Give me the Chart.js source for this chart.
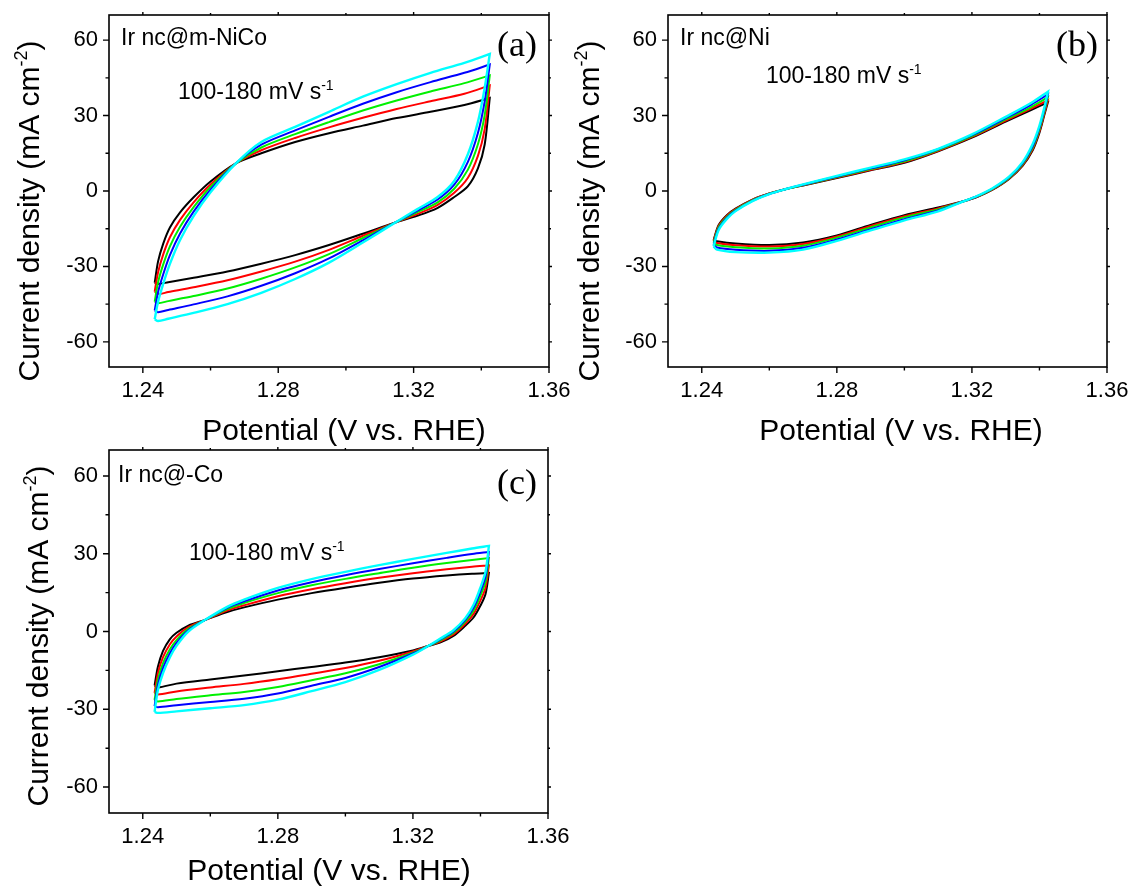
<!DOCTYPE html>
<html>
<head>
<meta charset="utf-8">
<title>CV at different scan rates</title>
<script src="https://cdn.jsdelivr.net/npm/chart.js@4.4.1/dist/chart.umd.min.js"></script>
<style>
  html, body { margin: 0; padding: 0; background: #fff; }
  #wrap { position: relative; width: 1134px; height: 889px; overflow: hidden; }
  #wrap canvas { position: absolute; left: 0; top: 0; }
</style>
</head>
<body>
<div id="wrap">
  <canvas id="cvNiCo" width="1134" height="889"></canvas>
  <canvas id="cvNi" width="1134" height="889"></canvas>
  <canvas id="cvCo" width="1134" height="889"></canvas>
</div>
<script>
// scan rates (mV/s) and their trace colours
const scanRates = [100, 120, 140, 160, 180];
const rateColors = ['#000000', '#ff0000', '#00f000', '#0000ff', '#00ffff'];

// axis ticks, empty label = minor tick
const potTicks = [1.24, 1.26, 1.28, 1.30, 1.32, 1.34, 1.36];
const potLabels = ['1.24', '', '1.28', '', '1.32', '', '1.36'];
const curTicks = [-60, -45, -30, -15, 0, 15, 30, 45, 60];
const curLabels = ['-60', '', '-30', '', '0', '', '30', '', '60'];

// (a) Ir nc@m-NiCo : anodic sweep then cathodic sweep, V vs RHE / mA cm-2
const nicoFwdE = [1.2435, 1.2445, 1.246, 1.248, 1.251, 1.255, 1.26, 1.2675, 1.275, 1.285, 1.295, 1.305, 1.315, 1.325, 1.335, 1.3425];
const nicoFwd100 = [-36.5, -28, -21, -14.5, -8.5, -2.5, 3.8, 11, 15, 19.5, 23, 26, 29, 31.5, 34.2, 37];
const nicoFwd120 = [-40, -32.3, -25.3, -18.4, -11.5, -4.5, 2.6, 11, 16.2, 21.1, 25.3, 29.1, 32.6, 35.7, 38.7, 42];
const nicoFwd140 = [-44, -36.3, -29.3, -22, -14.2, -6.4, 1.6, 11, 17.3, 22.6, 27.4, 32, 36, 39.6, 42.9, 46];
const nicoFwd160 = [-47.5, -40.2, -33.2, -25.5, -16.9, -8.2, 0.5, 11, 18.4, 24.1, 29.5, 34.7, 39.3, 43.3, 47, 50.3];
const nicoFwd180 = [-51, -44, -37, -29, -19.5, -10, -0.5, 11, 19.5, 25.5, 31.5, 37.5, 42.5, 47, 51, 54.5];
const nicoRevE = [1.3425, 1.341, 1.339, 1.336, 1.332, 1.327, 1.321, 1.3145, 1.305, 1.295, 1.285, 1.275, 1.265, 1.255, 1.2475, 1.2445];
const nicoRev100 = [37, 18.5, 9, 1.8, -2.4, -6.8, -9.9, -12.6, -17, -21.5, -25.5, -28.9, -32, -34.5, -36.3, -37];
const nicoRev120 = [42, 24.6, 14, 5.2, -0.7, -5.6, -9.2, -12.6, -17.8, -23.4, -28.1, -32, -35.5, -38.3, -40.2, -41];
const nicoRev140 = [46, 30.2, 18.6, 8.4, 0.9, -4.6, -8.5, -12.6, -18.7, -25.1, -30.4, -34.9, -38.8, -41.8, -43.8, -44.6];
const nicoRev160 = [50.3, 35.6, 23.1, 11.5, 2.5, -3.5, -7.9, -12.6, -19.6, -26.8, -32.7, -37.7, -41.9, -45.1, -47.3, -48.2];
const nicoRev180 = [54.5, 41, 27.5, 14.5, 4, -2.5, -7.3, -12.6, -20.5, -28.5, -35, -40.5, -45, -48.5, -50.8, -51.7];

// (b) Ir nc@Ni
const niFwdE = [1.2435, 1.245, 1.2475, 1.25, 1.255, 1.26, 1.265, 1.27, 1.28, 1.29, 1.30, 1.31, 1.32, 1.33, 1.3375, 1.3425];
const niFwd100 = [-19.5, -13.5, -9.5, -7, -3.4, -1, 0.8, 2.2, 5.2, 8.2, 11.2, 15.8, 21.2, 27.6, 32.2, 35.3];
const niFwd120 = [-20, -13.9, -9.8, -7.2, -3.5, -1, 0.8, 2.3, 5.4, 8.4, 11.5, 16, 21.5, 28, 32.8, 36.1];
const niFwd140 = [-20.6, -14.4, -10.2, -7.5, -3.7, -1.1, 0.8, 2.4, 5.6, 8.7, 11.8, 16.3, 21.8, 28.5, 33.4, 37.3];
const niFwd160 = [-21.4, -15, -10.6, -7.8, -3.9, -1.2, 0.8, 2.5, 5.8, 9, 12.2, 16.6, 22.2, 29, 34.3, 38.4];
const niFwd180 = [-22, -15.5, -11, -8, -4, -1.2, 0.8, 2.6, 6, 9.3, 12.6, 16.8, 22.5, 29.5, 35, 39.5];
const niRevE = [1.3425, 1.3415, 1.34, 1.338, 1.335, 1.331, 1.326, 1.3215, 1.3175, 1.31, 1.30, 1.29, 1.28, 1.27, 1.26, 1.25, 1.2445];
const niRev100 = [35.3, 30.5, 23.2, 16.2, 10, 4.8, 0.4, -2.4, -4.1, -6.6, -9.6, -13.5, -17.7, -20.5, -21.5, -20.9, -20];
const niRev120 = [36.1, 31.1, 23.8, 16.7, 10.3, 5, 0.5, -2.3, -4.1, -6.9, -10, -13.9, -18.1, -21.1, -22.1, -21.6, -20.7];
const niRev140 = [37.3, 31.9, 24.5, 17.3, 10.7, 5.2, 0.7, -2.2, -4.1, -7.3, -10.5, -14.5, -18.6, -21.8, -22.9, -22.4, -21.5];
const niRev160 = [38.4, 32.7, 25.3, 17.9, 11.1, 5.5, 0.9, -2.1, -4.1, -7.7, -11.2, -15.2, -19.3, -22.6, -23.8, -23.4, -22.5];
const niRev180 = [39.5, 33.5, 26, 18.7, 11.5, 5.7, 1, -2, -4.1, -8.1, -11.7, -15.7, -19.8, -23.3, -24.5, -24.3, -23.3];

// (c) Ir nc@-Co
const coFwdE = [1.2435, 1.2445, 1.246, 1.248, 1.25, 1.2535, 1.2585, 1.265, 1.27, 1.28, 1.29, 1.30, 1.31, 1.32, 1.33, 1.3375, 1.3425];
const coFwd100 = [-20.8, -13.5, -7.5, -3, -0.5, 2.3, 4.5, 7.5, 9.3, 12.3, 14.8, 16.9, 18.8, 20.4, 21.6, 22.3, 22.6];
const coFwd120 = [-23.7, -16, -9.9, -5, -1.9, 1.7, 4.5, 8.1, 10.1, 13.6, 16.3, 18.6, 20.7, 22.5, 24, 25, 25.5];
const coFwd140 = [-26.4, -18.5, -12.2, -6.9, -3.3, 1, 4.5, 8.6, 11, 14.8, 17.8, 20.3, 22.5, 24.6, 26.4, 27.6, 28.3];
const coFwd160 = [-28.8, -20.5, -14.1, -8.5, -4.4, 0.5, 4.5, 9.1, 11.6, 15.8, 19, 21.7, 24.1, 26.3, 28.4, 29.9, 30.7];
const coFwd180 = [-31, -22.5, -16, -10, -5.5, 0, 4.5, 9.5, 12.3, 16.8, 20.2, 23, 25.6, 28, 30.3, 32, 33];
const coRevE = [1.3425, 1.3415, 1.34, 1.338, 1.3355, 1.332, 1.328, 1.3245, 1.32, 1.31, 1.30, 1.29, 1.28, 1.27, 1.26, 1.25, 1.2445];
const coRev100 = [22.6, 14.5, 10, 5.5, 2.2, -1.7, -4.3, -5.6, -7.3, -9.9, -12, -13.7, -15.3, -17, -18.5, -20.1, -21.6];
const coRev120 = [25.5, 16.9, 12, 6.9, 3, -1.1, -3.9, -5.6, -7.7, -11.3, -14.1, -16.3, -18.4, -20.2, -21.6, -23.1, -24.3];
const coRev140 = [28.3, 19.2, 13.9, 8.2, 3.8, -0.5, -3.5, -5.6, -8.2, -12.6, -16.1, -18.8, -21.4, -23.3, -24.6, -26, -27];
const coRev160 = [30.7, 21.1, 15.5, 9.3, 4.5, 0, -3.1, -5.6, -8.5, -13.7, -17.9, -20.9, -23.9, -25.9, -27.2, -28.4, -29.2];
const coRev180 = [33, 23, 17, 10.4, 5.1, 0.5, -2.8, -5.6, -8.9, -14.8, -19.5, -23, -26.3, -28.4, -29.6, -30.8, -31.4];

const SANS = '"Liberation Sans", Arial, sans-serif';
const SERIF = '"Liberation Serif", "Times New Roman", serif';

// closed loop: anodic branch, cathodic branch, back to the start
function loopPoints(fwdE, fwdJ, revE, revJ) {
  const pts = fwdE.map((e, k) => ({ x: e, y: fwdJ[k] }));
  revE.forEach((e, k) => pts.push({ x: e, y: revJ[k] }));
  pts.push(pts[0]);
  return pts;
}

// runs of text with raised superscripts
function runWidth(ctx, parts) {
  let w = 0;
  parts.forEach(([txt, size]) => {
    ctx.font = size + 'px ' + SANS;
    w += ctx.measureText(txt).width;
  });
  return w;
}
function drawRuns(ctx, parts, x, y) {
  let cx = x;
  parts.forEach(([txt, size, rise]) => {
    ctx.font = size + 'px ' + SANS;
    ctx.fillText(txt, cx, y - rise);
    cx += ctx.measureText(txt).width;
  });
}

// box frame with outward ticks on all four sides
const framePlugin = {
  id: 'panelFrame',
  afterDatasetsDraw(chart) {
    const { ctx, chartArea: a, scales: { x, y } } = chart;
    ctx.save();
    ctx.strokeStyle = '#000';
    ctx.lineWidth = 1.6;
    ctx.strokeRect(a.left, a.top, a.right - a.left, a.bottom - a.top);
    ctx.lineWidth = 1.4;
    ctx.beginPath();
    x.ticks.forEach(t => {
      const px = x.getPixelForValue(t.value);
      const major = t.label !== '';
      ctx.moveTo(px, a.bottom); ctx.lineTo(px, a.bottom + (major ? 6 : 3.5));
      ctx.moveTo(px, a.top); ctx.lineTo(px, a.top - (major ? 3 : 2));
    });
    y.ticks.forEach(t => {
      const py = y.getPixelForValue(t.value);
      const major = t.label !== '';
      ctx.moveTo(a.left, py); ctx.lineTo(a.left - (major ? 6 : 3.5), py);
      ctx.moveTo(a.right, py); ctx.lineTo(a.right + (major ? 3 : 2), py);
    });
    ctx.stroke();
    ctx.restore();
  }
};

// axis titles, sample name, scan-rate note and panel letter
const textPlugin = {
  id: 'panelText',
  afterDraw(chart, args, o) {
    const ctx = chart.ctx;
    ctx.save();
    ctx.fillStyle = '#000';
    ctx.textBaseline = 'alphabetic';
    ctx.textAlign = 'left';

    const yParts = [['Current density (mA cm', 30, 0], ['-2', 18, 12], [')', 30, 0]];
    ctx.save();
    ctx.translate(o.yTitle[0], o.yTitle[1]);
    ctx.rotate(-Math.PI / 2);
    drawRuns(ctx, yParts, -runWidth(ctx, yParts) / 2, 0);
    ctx.restore();

    ctx.font = '30px ' + SANS;
    ctx.textAlign = 'center';
    ctx.fillText('Potential (V vs. RHE)', o.xTitle[0], o.xTitle[1]);

    ctx.textAlign = 'left';
    ctx.font = '23px ' + SANS;
    ctx.fillText(o.sample, o.samplePos[0], o.samplePos[1]);
    drawRuns(ctx, [['100-180 mV s', 23, 0], ['-1', 14, 9]], o.ratePos[0], o.ratePos[1]);

    ctx.font = '36px ' + SERIF;
    ctx.fillText(o.letter, o.letterPos[0], o.letterPos[1]);
    ctx.restore();
  }
};

const Y_AXIS_W = 60, X_AXIS_H = 40, PAGE_W = 1134, PAGE_H = 889;

function drawPanel(p) {
  const datasets = scanRates.map((rate, i) => ({
    label: rate + ' mV/s',
    data: loopPoints(p.fwdE, p.fwd[i], p.revE, p.rev[i]),
    showLine: true,
    borderColor: rateColors[i],
    borderWidth: i === 4 ? 2.4 : 2,
    pointRadius: 0,
    tension: 0.3,
    fill: false,
    order: scanRates.length - 1 - i
  }));

  const tickFont = { family: SANS, size: 22 };
  const tickGrid = { display: true, drawOnChartArea: false, drawTicks: true, tickLength: 6, tickColor: 'rgba(0,0,0,0)' };

  new Chart(document.getElementById(p.id), {
    type: 'scatter',
    data: { datasets },
    options: {
      responsive: false,
      animation: false,
      events: [],
      layout: {
        padding: {
          left: p.area.left - Y_AXIS_W,
          top: p.area.top,
          right: PAGE_W - p.area.right,
          bottom: PAGE_H - p.area.bottom - X_AXIS_H
        }
      },
      plugins: {
        legend: { display: false },
        tooltip: { enabled: false },
        panelText: p.text
      },
      scales: {
        x: {
          type: 'linear',
          min: 1.23,
          max: 1.36,
          afterBuildTicks: s => { s.ticks = potTicks.map(v => ({ value: v })); },
          afterFit: s => { s.height = X_AXIS_H; s.paddingLeft = 0; s.paddingRight = 0; },
          ticks: { autoSkip: false, maxRotation: 0, padding: 5, color: '#000', font: tickFont, callback: (v, i) => potLabels[i] },
          grid: tickGrid,
          border: { display: false }
        },
        y: {
          type: 'linear',
          min: -70,
          max: 70,
          afterBuildTicks: s => { s.ticks = curTicks.map(v => ({ value: v })); },
          afterFit: s => { s.width = Y_AXIS_W; s.paddingTop = 0; s.paddingBottom = 0; },
          ticks: { autoSkip: false, padding: 5, color: '#000', font: tickFont, callback: (v, i) => curLabels[i] },
          grid: tickGrid,
          border: { display: false }
        }
      }
    },
    plugins: [framePlugin, textPlugin]
  });
}

drawPanel({
  id: 'cvNiCo',
  area: { left: 109, top: 15, right: 549, bottom: 367 },
  fwdE: nicoFwdE, revE: nicoRevE,
  fwd: [nicoFwd100, nicoFwd120, nicoFwd140, nicoFwd160, nicoFwd180],
  rev: [nicoRev100, nicoRev120, nicoRev140, nicoRev160, nicoRev180],
  text: { sample: 'Ir nc@m-NiCo', samplePos: [121, 45], ratePos: [178, 99], letter: '(a)', letterPos: [497, 56], yTitle: [39, 211], xTitle: [344, 440] }
});

drawPanel({
  id: 'cvNi',
  area: { left: 668, top: 15, right: 1107, bottom: 367 },
  fwdE: niFwdE, revE: niRevE,
  fwd: [niFwd100, niFwd120, niFwd140, niFwd160, niFwd180],
  rev: [niRev100, niRev120, niRev140, niRev160, niRev180],
  text: { sample: 'Ir nc@Ni', samplePos: [680, 45], ratePos: [766, 83], letter: '(b)', letterPos: [1056, 56], yTitle: [599, 211], xTitle: [901, 440] }
});

drawPanel({
  id: 'cvCo',
  area: { left: 109, top: 450, right: 548, bottom: 813 },
  fwdE: coFwdE, revE: coRevE,
  fwd: [coFwd100, coFwd120, coFwd140, coFwd160, coFwd180],
  rev: [coRev100, coRev120, coRev140, coRev160, coRev180],
  text: { sample: 'Ir nc@-Co', samplePos: [118, 482], ratePos: [189, 560], letter: '(c)', letterPos: [497, 494], yTitle: [48, 636], xTitle: [329, 880] }
});
</script>
</body>
</html>
